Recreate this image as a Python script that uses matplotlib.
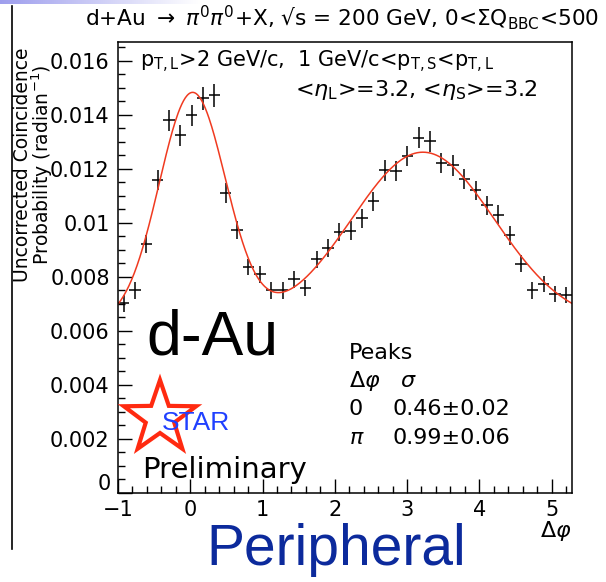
import numpy as np
import matplotlib
matplotlib.use("Agg")
import matplotlib.pyplot as plt
from matplotlib.patches import Polygon
from matplotlib.lines import Line2D
from matplotlib.ticker import MultipleLocator, FixedLocator, FuncFormatter

# Delta-phi histogram: bin centres (rad), 40 bins spanning [-1, 2pi-1)
dphi = [-0.921, -0.764, -0.607, -0.450, -0.293, -0.136, 0.021, 0.178, 0.335, 0.492,
        0.649, 0.806, 0.964, 1.121, 1.278, 1.435, 1.592, 1.749, 1.906, 2.063,
        2.220, 2.377, 2.534, 2.691, 2.848, 3.006, 3.163, 3.320, 3.477, 3.634,
        3.791, 3.948, 4.105, 4.262, 4.419, 4.576, 4.733, 4.891, 5.048, 5.205]
prob = [0.00702, 0.00750, 0.00921, 0.01158, 0.01380, 0.01324, 0.01398, 0.01461, 0.01472, 0.01111,
        0.00973, 0.00837, 0.00810, 0.00750, 0.00750, 0.00791, 0.00758, 0.00865, 0.00906, 0.00967,
        0.00972, 0.01018, 0.01080, 0.01195, 0.01193, 0.01248, 0.01316, 0.01302, 0.01222, 0.01213,
        0.01164, 0.01121, 0.01065, 0.01031, 0.00954, 0.00849, 0.00750, 0.00775, 0.00738, 0.00732]
prob_err = [0.00030, 0.00030, 0.00033, 0.00037, 0.00040, 0.00039, 0.00040, 0.00041, 0.00041, 0.00036,
            0.00034, 0.00031, 0.00031, 0.00030, 0.00030, 0.00031, 0.00030, 0.00032, 0.00033, 0.00034,
            0.00034, 0.00035, 0.00036, 0.00038, 0.00038, 0.00038, 0.00039, 0.00039, 0.00038, 0.00038,
            0.00037, 0.00036, 0.00035, 0.00035, 0.00034, 0.00032, 0.00030, 0.00030, 0.00030, 0.00030]
bin_half_width = np.pi / 40

# Fit: constant + near-side and away-side Gaussians
fit_base = 0.0063
fit_amp_near = 0.00850
fit_amp_away = 0.00632
peak_near = 0.03
peak_away = 3.22
sigma_near = 0.46
sigma_near_err = 0.02
sigma_away = 0.99
sigma_away_err = 0.06

x_ticks = [-1, 0, 1, 2, 3, 4, 5]
y_ticks = [0, 0.002, 0.004, 0.006, 0.008, 0.010, 0.012, 0.014, 0.016]

W, H = 606, 582
fig = plt.figure(figsize=(W / 100, H / 100), dpi=100)
fig.patch.set_facecolor("white")


def fx(px):
    return px / W


def fy(py):
    return 1 - py / H


# thin slide banner fading out at the top-left
band = fig.add_axes([0, fy(4), fx(200), 4 / H])
grad = np.linspace(0, 1, 256)
band_rgb = np.stack([0.62 + 0.38 * grad, 0.62 + 0.38 * grad, 0.93 + 0.07 * grad], axis=-1)[None, :, :]
band.imshow(band_rgb, aspect="auto", extent=[0, 1, 0, 1])
band.set_axis_off()

ax = fig.add_axes([fx(118), fy(493), fx(572) - fx(118), fy(42) - fy(493)])
ax.set_xlim(-1, 2 * np.pi - 1)
ax.set_ylim(0, 0.0167)

ax.errorbar(dphi, prob, xerr=bin_half_width, yerr=prob_err, fmt="none",
            ecolor="black", elinewidth=1.1, capsize=0)


def fit_curve(x):
    return (fit_base
            + fit_amp_near * np.exp(-(x - peak_near) ** 2 / (2 * sigma_near ** 2))
            + fit_amp_away * np.exp(-(x - peak_away) ** 2 / (2 * sigma_away ** 2)))


xs = np.linspace(-1, 2 * np.pi - 1, 500)
ax.plot(xs, fit_curve(xs), color="#f03a20", lw=1.1)

# ROOT-like axes: inward ticks on left/bottom only
ax.xaxis.set_major_locator(FixedLocator(x_ticks))
ax.xaxis.set_minor_locator(MultipleLocator(0.2))
ax.yaxis.set_major_locator(FixedLocator(y_ticks))
ax.yaxis.set_minor_locator(MultipleLocator(0.0005))
# the zero label is drawn separately, lifted clear of the x labels
ax.yaxis.set_major_formatter(FuncFormatter(lambda v, p: "" if v == 0 else "%g" % round(v, 4)))
ax.tick_params(which="both", direction="in", top=False, right=False, colors="black")
ax.tick_params(which="major", length=10, width=1)
ax.tick_params(which="minor", length=5, width=1)
ax.tick_params(axis="y", labelsize=15, pad=6)
ax.tick_params(axis="x", labelsize=15, pad=5)
for sp in ax.spines.values():
    sp.set_linewidth(1.1)
    sp.set_color("black")

ff = "DejaVu Sans"
for lab in ax.get_xticklabels() + ax.get_yticklabels():
    lab.set_family(ff)
fig.text(fx(111), fy(484), "%g" % y_ticks[0], ha="right", va="center", fontsize=15, family=ff)

# Titles and annotations
fig.text(fx(342), fy(18),
         "d+Au $\\rightarrow$ $\\pi^{0}\\pi^{0}$+X, \u221As = 200 GeV, 0<$\\Sigma$Q$_{\\mathrm{BBC}}$<500",
         ha="center", va="center", fontsize=15.6, family=ff)
fig.text(fx(140), fy(62),
         r"p$_{\mathrm{T,L}}$>2 GeV/c,  1 GeV/c<p$_{\mathrm{T,S}}$<p$_{\mathrm{T,L}}$",
         ha="left", va="center", fontsize=15, family=ff)
fig.text(fx(295), fy(90),
         r"<$\eta_{\mathrm{L}}$>=3.2, <$\eta_{\mathrm{S}}$>=3.2",
         ha="left", va="center", fontsize=16, family=ff)

# two-line y-axis title
fig.text(fx(34), fy(165), "Uncorrected Coincidence\nProbability (radian$^{-1}$)",
         rotation=90, ha="center", va="center", multialignment="center",
         linespacing=0.9, fontsize=13.5, family=ff)

fig.text(fx(572), fy(531), r"$\Delta\varphi$", ha="right", va="center",
         fontsize=16, family=ff)

fig.text(fx(146), fy(338), "d-Au", ha="left", va="center", fontsize=45,
         family="Liberation Sans")

fig.text(fx(349), fy(353), "Peaks", ha="left", va="center", fontsize=16, family=ff)
fig.text(fx(349), fy(381), r"$\Delta\varphi$", ha="left", va="center", fontsize=16, family=ff)
fig.text(fx(400), fy(381), r"$\sigma$", ha="left", va="center", fontsize=16, family=ff)
fig.text(fx(349), fy(409), "0", ha="left", va="center", fontsize=16, family=ff)
fig.text(fx(393), fy(409), "%.2f\u00b1%.2f" % (sigma_near, sigma_near_err), ha="left",
         va="center", fontsize=16, family=ff)
fig.text(fx(349), fy(438), r"$\pi$", ha="left", va="center", fontsize=16, family=ff)
fig.text(fx(393), fy(438), "%.2f\u00b1%.2f" % (sigma_away, sigma_away_err), ha="left",
         va="center", fontsize=16, family=ff)

fig.text(fx(142), fy(470), "Preliminary", ha="left", va="center", fontsize=21, family=ff)

# STAR logo: open red star with blue lettering
cx, cy, r_out, r_in = 160, 418, 38, 15
ang = np.deg2rad(90 + np.arange(10) * 36)
rad = np.where(np.arange(10) % 2 == 0, r_out, r_in)
star_px = np.column_stack([cx + rad * np.cos(ang), cy - rad * np.sin(ang)])
star = Polygon([(fx(px), fy(py)) for px, py in star_px], closed=True, fill=False,
               edgecolor="#ff2a10", lw=3.0, transform=fig.transFigure, joinstyle="miter")
fig.add_artist(star)
fig.text(fx(162), fy(423), "STAR", ha="left", va="center", fontsize=19,
         color="#2040ff", family="Liberation Sans")

fig.text(fx(336), fy(550), "Peripheral", ha="center", va="center", fontsize=41,
         color="#0c2a9c", family="Liberation Sans")

fig.add_artist(Line2D([fx(12), fx(12)], [fy(6), fy(549)], color="black", lw=1.2,
                      transform=fig.transFigure))

fig.savefig("out.png", dpi=100)
